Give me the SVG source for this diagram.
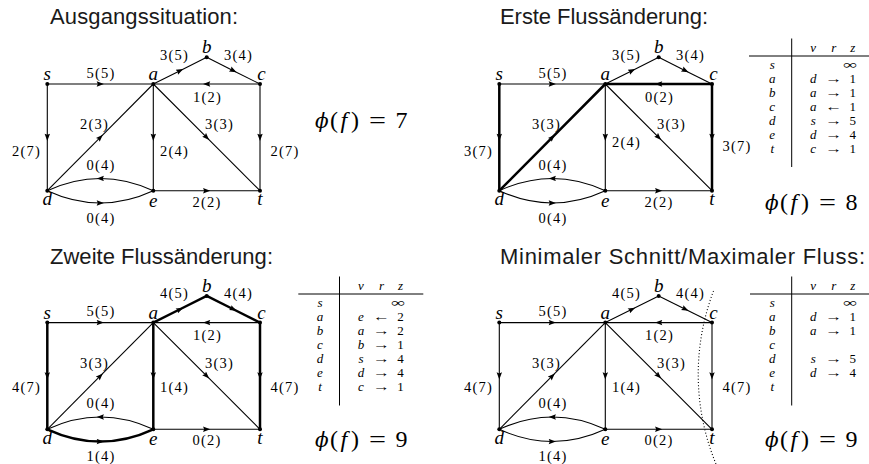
<svg xmlns="http://www.w3.org/2000/svg" width="869" height="464" viewBox="0 0 869 464">
<style>
.bg{fill:#ffffff}
.ttl{font-family:"Liberation Sans",Arial,sans-serif;font-size:22px;fill:#1a1a1a}
.e{fill:none;stroke:#000;stroke-width:1.1;marker-mid:url(#ah)}
.E{fill:none;stroke:#000;stroke-width:2.5;marker-mid:url(#ah)}
.lb{font-family:"Liberation Serif","Times New Roman",serif;font-size:14.5px;letter-spacing:1.2px;text-anchor:middle;fill:#000}
.nl{font-family:"Liberation Serif","Times New Roman",serif;font-size:19px;font-style:italic;text-anchor:middle;fill:#000}
.dot{fill:#000}
.phi{font-family:"Liberation Serif","Times New Roman",serif;font-size:24px;fill:#000}
.it{font-style:italic}
.ph{font-family:"DejaVu Serif","Liberation Serif",serif;font-style:italic;font-size:20px}
.tb{font-family:"Liberation Serif","Times New Roman",serif;font-size:13px;text-anchor:middle;fill:#000}
.tl{stroke:#000;stroke-width:1;fill:none}
.cut{fill:none;stroke:#000;stroke-width:1.1;stroke-dasharray:1 2.2}
</style>
<defs>
<marker id="ah" markerUnits="userSpaceOnUse" viewBox="-4 -3 8 6" markerWidth="8" markerHeight="6" refX="0" refY="0" orient="auto">
<path d="M-3.6,-2.7 L3.6,0 L-3.6,2.7 L-2.5,0 Z" fill="#000"/>
</marker>
</defs>
<rect class="bg" x="0" y="0" width="869" height="464"/>

<text class="ttl" x="50" y="24" textLength="188">Ausgangssituation:</text>
<text class="ttl" x="500" y="24" textLength="208">Erste Flussänderung:</text>
<text class="ttl" x="50" y="263.5" textLength="223">Zweite Flussänderung:</text>
<text class="ttl" x="500" y="263.5" textLength="365">Minimaler Schnitt/Maximaler Fluss:</text>

<!-- Quadrant 1 -->
<g id="q1" transform="translate(0,0)">
<g id="q1-connectors">
<path class="e" d="M47.3,84 L100.3,84 L153.3,84"/>
<path class="e" d="M153.3,84 L180,70.65 L206.7,57.3"/>
<path class="e" d="M206.7,57.3 L233.35,70.65 L260,84"/>
<path class="e" d="M260,84 L206.65,84 L153.3,84"/>
<path class="e" d="M47.3,84 L47.3,137.35 L47.3,190.7"/>
<path class="e" d="M47.3,190.7 L100.3,137.35 L153.3,84"/>
<path class="e" d="M153.3,84 L153.3,137.35 L153.3,190.7"/>
<path class="e" d="M153.3,84 L206.65,137.35 L260,190.7"/>
<path class="e" d="M260,84 L260,137.35 L260,190.7"/>
<path class="e" d="M153.3,190.7 Q126.8,178.45 100.3,178.45 Q73.8,178.45 47.3,190.7"/>
<path class="e" d="M47.3,190.7 Q73.8,202.95 100.3,202.95 Q126.8,202.95 153.3,190.7"/>
<path class="e" d="M153.3,190.7 L206.65,190.7 L260,190.7"/>
<text class="lb" x="101" y="77.5">5(5)</text>
<text class="lb" x="174.5" y="59.5">3(5)</text>
<text class="lb" x="238.5" y="59.5">3(4)</text>
<text class="lb" x="207.5" y="101.5">1(2)</text>
<text class="lb" x="26.5" y="155.5">2(7)</text>
<text class="lb" x="94.5" y="129">2(3)</text>
<text class="lb" x="174.5" y="155.5">2(4)</text>
<text class="lb" x="219.5" y="129">3(3)</text>
<text class="lb" x="285" y="155.5">2(7)</text>
<text class="lb" x="101" y="169.5">0(4)</text>
<text class="lb" x="101" y="222.5">0(4)</text>
<text class="lb" x="207" y="206.5">2(2)</text>
</g>
<g id="q1-s"><circle class="dot" cx="47.3" cy="84" r="2"/><text class="nl" x="47.3" y="80">s</text></g>
<g id="q1-a"><circle class="dot" cx="153.3" cy="84" r="2"/><text class="nl" x="153.3" y="80">a</text></g>
<g id="q1-b"><circle class="dot" cx="206.7" cy="57.3" r="2"/><text class="nl" x="206.7" y="53">b</text></g>
<g id="q1-c"><circle class="dot" cx="260" cy="84" r="2"/><text class="nl" x="261.5" y="80">c</text></g>
<g id="q1-d"><circle class="dot" cx="47.3" cy="190.7" r="2"/><text class="nl" x="47.3" y="205">d</text></g>
<g id="q1-e"><circle class="dot" cx="153.3" cy="190.7" r="2"/><text class="nl" x="153.3" y="206.5">e</text></g>
<g id="q1-t"><circle class="dot" cx="260" cy="190.7" r="2"/><text class="nl" x="260" y="205">t</text></g>
</g>
<text class="phi" y="128"><tspan class="ph" x="315">ϕ</tspan><tspan x="330">(</tspan><tspan class="it" x="340.5">f</tspan><tspan x="351">)</tspan><tspan x="369" textLength="17" lengthAdjust="spacingAndGlyphs">=</tspan><tspan x="395.5">7</tspan></text>

<!-- Quadrant 2 -->
<g id="q2" transform="translate(452,0)">
<g id="q2-connectors">
<path class="e" d="M47.3,84 L100.3,84 L153.3,84"/>
<path class="e" d="M153.3,84 L180,70.65 L206.7,57.3"/>
<path class="e" d="M206.7,57.3 L233.35,70.65 L260,84"/>
<path class="E" d="M260,84 L206.65,84 L153.3,84"/>
<path class="E" d="M47.3,84 L47.3,137.35 L47.3,190.7"/>
<path class="E" d="M47.3,190.7 L100.3,137.35 L153.3,84"/>
<path class="e" d="M153.3,84 L153.3,137.35 L153.3,190.7"/>
<path class="e" d="M153.3,84 L206.65,137.35 L260,190.7"/>
<path class="E" d="M260,84 L260,137.35 L260,190.7"/>
<path class="e" d="M153.3,190.7 Q126.8,178.45 100.3,178.45 Q73.8,178.45 47.3,190.7"/>
<path class="e" d="M47.3,190.7 Q73.8,202.95 100.3,202.95 Q126.8,202.95 153.3,190.7"/>
<path class="e" d="M153.3,190.7 L206.65,190.7 L260,190.7"/>
<text class="lb" x="101" y="77.5">5(5)</text>
<text class="lb" x="174.5" y="59.5">3(5)</text>
<text class="lb" x="238.5" y="59.5">3(4)</text>
<text class="lb" x="207.5" y="101.5">0(2)</text>
<text class="lb" x="26.5" y="155.5">3(7)</text>
<text class="lb" x="94.5" y="129">3(3)</text>
<text class="lb" x="174.5" y="147">2(4)</text>
<text class="lb" x="219.5" y="129">3(3)</text>
<text class="lb" x="285" y="151">3(7)</text>
<text class="lb" x="101" y="169.5">0(4)</text>
<text class="lb" x="101" y="222.5">0(4)</text>
<text class="lb" x="207" y="206.5">2(2)</text>
</g>
<g id="q2-s"><circle class="dot" cx="47.3" cy="84" r="2"/><text class="nl" x="47.3" y="80">s</text></g>
<g id="q2-a"><circle class="dot" cx="153.3" cy="84" r="2"/><text class="nl" x="153.3" y="80">a</text></g>
<g id="q2-b"><circle class="dot" cx="206.7" cy="57.3" r="2"/><text class="nl" x="206.7" y="53">b</text></g>
<g id="q2-c"><circle class="dot" cx="260" cy="84" r="2"/><text class="nl" x="261.5" y="80">c</text></g>
<g id="q2-d"><circle class="dot" cx="47.3" cy="190.7" r="2"/><text class="nl" x="47.3" y="205">d</text></g>
<g id="q2-e"><circle class="dot" cx="153.3" cy="190.7" r="2"/><text class="nl" x="153.3" y="206.5">e</text></g>
<g id="q2-t"><circle class="dot" cx="260" cy="190.7" r="2"/><text class="nl" x="260" y="205">t</text></g>
</g>
<g id="q2-table">
<line class="tl" x1="791.7" y1="38.5" x2="791.7" y2="167"/>
<line class="tl" x1="749" y1="56" x2="869" y2="56"/>
<text class="tb it" x="813.2" y="51.5">v</text><text class="tb it" x="833.7" y="51.5">r</text><text class="tb it" x="852.7" y="51.5">z</text>
<text class="tb it" x="772.2" y="69">s</text><text class="tb" x="850" y="69" textLength="14" lengthAdjust="spacingAndGlyphs">∞</text>
<text class="tb it" x="772.2" y="83">a</text><text class="tb it" x="813.2" y="83">d</text><text class="tb" x="833.2" y="83" textLength="17" lengthAdjust="spacingAndGlyphs">→</text><text class="tb" x="852.7" y="83">1</text>
<text class="tb it" x="772.2" y="97">b</text><text class="tb it" x="813.2" y="97">a</text><text class="tb" x="833.2" y="97" textLength="17" lengthAdjust="spacingAndGlyphs">→</text><text class="tb" x="852.7" y="97">1</text>
<text class="tb it" x="772.2" y="111">c</text><text class="tb it" x="813.2" y="111">a</text><text class="tb" x="833.2" y="111" textLength="17" lengthAdjust="spacingAndGlyphs">←</text><text class="tb" x="852.7" y="111">1</text>
<text class="tb it" x="772.2" y="125">d</text><text class="tb it" x="813.2" y="125">s</text><text class="tb" x="833.2" y="125" textLength="17" lengthAdjust="spacingAndGlyphs">→</text><text class="tb" x="852.7" y="125">5</text>
<text class="tb it" x="772.2" y="139">e</text><text class="tb it" x="813.2" y="139">d</text><text class="tb" x="833.2" y="139" textLength="17" lengthAdjust="spacingAndGlyphs">→</text><text class="tb" x="852.7" y="139">4</text>
<text class="tb it" x="772.2" y="153">t</text><text class="tb it" x="813.2" y="153">c</text><text class="tb" x="833.2" y="153" textLength="17" lengthAdjust="spacingAndGlyphs">→</text><text class="tb" x="852.7" y="153">1</text>
</g>
<text class="phi" y="210"><tspan class="ph" x="765">ϕ</tspan><tspan x="780">(</tspan><tspan class="it" x="790.5">f</tspan><tspan x="801">)</tspan><tspan x="819" textLength="17" lengthAdjust="spacingAndGlyphs">=</tspan><tspan x="845.5">8</tspan></text>

<!-- Quadrant 3 -->
<g id="q3" transform="translate(0,238.6)">
<g id="q3-connectors">
<path class="e" d="M47.3,84 L100.3,84 L153.3,84"/>
<path class="E" d="M153.3,84 L180,70.65 L206.7,57.3"/>
<path class="E" d="M206.7,57.3 L233.35,70.65 L260,84"/>
<path class="e" d="M260,84 L206.65,84 L153.3,84"/>
<path class="E" d="M47.3,84 L47.3,137.35 L47.3,190.7"/>
<path class="e" d="M47.3,190.7 L100.3,137.35 L153.3,84"/>
<path class="E" d="M153.3,84 L153.3,137.35 L153.3,190.7"/>
<path class="e" d="M153.3,84 L206.65,137.35 L260,190.7"/>
<path class="E" d="M260,84 L260,137.35 L260,190.7"/>
<path class="e" d="M153.3,190.7 Q126.8,178.45 100.3,178.45 Q73.8,178.45 47.3,190.7"/>
<path class="E" d="M47.3,190.7 Q73.8,202.95 100.3,202.95 Q126.8,202.95 153.3,190.7"/>
<path class="e" d="M153.3,190.7 L206.65,190.7 L260,190.7"/>
<text class="lb" x="101" y="77.5">5(5)</text>
<text class="lb" x="174.5" y="59.5">4(5)</text>
<text class="lb" x="238.5" y="59.5">4(4)</text>
<text class="lb" x="207.5" y="101.5">1(2)</text>
<text class="lb" x="26.5" y="153">4(7)</text>
<text class="lb" x="94.5" y="129">3(3)</text>
<text class="lb" x="174.5" y="153">1(4)</text>
<text class="lb" x="219.5" y="129">3(3)</text>
<text class="lb" x="285" y="153">4(7)</text>
<text class="lb" x="101" y="169.5">0(4)</text>
<text class="lb" x="101" y="222.5">1(4)</text>
<text class="lb" x="207" y="206.5">0(2)</text>
</g>
<g id="q3-s"><circle class="dot" cx="47.3" cy="84" r="2"/><text class="nl" x="47.3" y="80">s</text></g>
<g id="q3-a"><circle class="dot" cx="153.3" cy="84" r="2"/><text class="nl" x="153.3" y="80">a</text></g>
<g id="q3-b"><circle class="dot" cx="206.7" cy="57.3" r="2"/><text class="nl" x="206.7" y="53">b</text></g>
<g id="q3-c"><circle class="dot" cx="260" cy="84" r="2"/><text class="nl" x="261.5" y="80">c</text></g>
<g id="q3-d"><circle class="dot" cx="47.3" cy="190.7" r="2"/><text class="nl" x="47.3" y="205">d</text></g>
<g id="q3-e"><circle class="dot" cx="153.3" cy="190.7" r="2"/><text class="nl" x="153.3" y="206.5">e</text></g>
<g id="q3-t"><circle class="dot" cx="260" cy="190.7" r="2"/><text class="nl" x="260" y="205">t</text></g>
</g>
<g id="q3-table">
<line class="tl" x1="339.5" y1="276.5" x2="339.5" y2="405.5"/>
<line class="tl" x1="298.3" y1="294" x2="423.3" y2="294"/>
<text class="tb it" x="361" y="289.5">v</text><text class="tb it" x="381.5" y="289.5">r</text><text class="tb it" x="400.5" y="289.5">z</text>
<text class="tb it" x="320" y="307">s</text><text class="tb" x="398" y="307" textLength="14" lengthAdjust="spacingAndGlyphs">∞</text>
<text class="tb it" x="320" y="321">a</text><text class="tb it" x="361" y="321">e</text><text class="tb" x="381" y="321" textLength="17" lengthAdjust="spacingAndGlyphs">←</text><text class="tb" x="400.5" y="321">2</text>
<text class="tb it" x="320" y="335">b</text><text class="tb it" x="361" y="335">a</text><text class="tb" x="381" y="335" textLength="17" lengthAdjust="spacingAndGlyphs">→</text><text class="tb" x="400.5" y="335">2</text>
<text class="tb it" x="320" y="349">c</text><text class="tb it" x="361" y="349">b</text><text class="tb" x="381" y="349" textLength="17" lengthAdjust="spacingAndGlyphs">→</text><text class="tb" x="400.5" y="349">1</text>
<text class="tb it" x="320" y="363">d</text><text class="tb it" x="361" y="363">s</text><text class="tb" x="381" y="363" textLength="17" lengthAdjust="spacingAndGlyphs">→</text><text class="tb" x="400.5" y="363">4</text>
<text class="tb it" x="320" y="377">e</text><text class="tb it" x="361" y="377">d</text><text class="tb" x="381" y="377" textLength="17" lengthAdjust="spacingAndGlyphs">→</text><text class="tb" x="400.5" y="377">4</text>
<text class="tb it" x="320" y="391">t</text><text class="tb it" x="361" y="391">c</text><text class="tb" x="381" y="391" textLength="17" lengthAdjust="spacingAndGlyphs">→</text><text class="tb" x="400.5" y="391">1</text>
</g>
<text class="phi" y="447"><tspan class="ph" x="315">ϕ</tspan><tspan x="330">(</tspan><tspan class="it" x="340.5">f</tspan><tspan x="351">)</tspan><tspan x="369" textLength="17" lengthAdjust="spacingAndGlyphs">=</tspan><tspan x="395.5">9</tspan></text>

<!-- Quadrant 4 -->
<g id="q4" transform="translate(452,238.6)">
<g id="q4-connectors">
<path class="e" d="M47.3,84 L100.3,84 L153.3,84"/>
<path class="e" d="M153.3,84 L180,70.65 L206.7,57.3"/>
<path class="e" d="M206.7,57.3 L233.35,70.65 L260,84"/>
<path class="e" d="M260,84 L206.65,84 L153.3,84"/>
<path class="e" d="M47.3,84 L47.3,137.35 L47.3,190.7"/>
<path class="e" d="M47.3,190.7 L100.3,137.35 L153.3,84"/>
<path class="e" d="M153.3,84 L153.3,137.35 L153.3,190.7"/>
<path class="e" d="M153.3,84 L206.65,137.35 L260,190.7"/>
<path class="e" d="M260,84 L260,137.35 L260,190.7"/>
<path class="e" d="M153.3,190.7 Q126.8,178.45 100.3,178.45 Q73.8,178.45 47.3,190.7"/>
<path class="e" d="M47.3,190.7 Q73.8,202.95 100.3,202.95 Q126.8,202.95 153.3,190.7"/>
<path class="e" d="M153.3,190.7 L206.65,190.7 L260,190.7"/>
<text class="lb" x="101" y="77.5">5(5)</text>
<text class="lb" x="174.5" y="59.5">4(5)</text>
<text class="lb" x="238.5" y="59.5">4(4)</text>
<text class="lb" x="207.5" y="101.5">1(2)</text>
<text class="lb" x="26.5" y="153">4(7)</text>
<text class="lb" x="94.5" y="129">3(3)</text>
<text class="lb" x="174.5" y="153">1(4)</text>
<text class="lb" x="219.5" y="129">3(3)</text>
<text class="lb" x="285" y="153">4(7)</text>
<text class="lb" x="101" y="169.5">0(4)</text>
<text class="lb" x="101" y="222.5">1(4)</text>
<text class="lb" x="207" y="206.5">0(2)</text>
</g>
<g id="q4-s"><circle class="dot" cx="47.3" cy="84" r="2"/><text class="nl" x="47.3" y="80">s</text></g>
<g id="q4-a"><circle class="dot" cx="153.3" cy="84" r="2"/><text class="nl" x="153.3" y="80">a</text></g>
<g id="q4-b"><circle class="dot" cx="206.7" cy="57.3" r="2"/><text class="nl" x="206.7" y="53">b</text></g>
<g id="q4-c"><circle class="dot" cx="260" cy="84" r="2"/><text class="nl" x="261.5" y="80">c</text></g>
<g id="q4-d"><circle class="dot" cx="47.3" cy="190.7" r="2"/><text class="nl" x="47.3" y="205">d</text></g>
<g id="q4-e"><circle class="dot" cx="153.3" cy="190.7" r="2"/><text class="nl" x="153.3" y="206.5">e</text></g>
<g id="q4-t"><circle class="dot" cx="260" cy="190.7" r="2"/><text class="nl" x="260" y="205">t</text></g>
</g>
<path id="q4-cut" class="cut" d="M713.5,291 A235,235 0 0 0 716,464"/>
<g id="q4-table">
<line class="tl" x1="791.7" y1="276.5" x2="791.7" y2="405.5"/>
<line class="tl" x1="750" y1="294" x2="869" y2="294"/>
<text class="tb it" x="813.2" y="289.5">v</text><text class="tb it" x="833.7" y="289.5">r</text><text class="tb it" x="852.7" y="289.5">z</text>
<text class="tb it" x="772.2" y="307">s</text><text class="tb" x="850" y="307" textLength="14" lengthAdjust="spacingAndGlyphs">∞</text>
<text class="tb it" x="772.2" y="321">a</text><text class="tb it" x="813.2" y="321">d</text><text class="tb" x="833.2" y="321" textLength="17" lengthAdjust="spacingAndGlyphs">→</text><text class="tb" x="852.7" y="321">1</text>
<text class="tb it" x="772.2" y="335">b</text><text class="tb it" x="813.2" y="335">a</text><text class="tb" x="833.2" y="335" textLength="17" lengthAdjust="spacingAndGlyphs">→</text><text class="tb" x="852.7" y="335">1</text>
<text class="tb it" x="772.2" y="349">c</text>
<text class="tb it" x="772.2" y="363">d</text><text class="tb it" x="813.2" y="363">s</text><text class="tb" x="833.2" y="363" textLength="17" lengthAdjust="spacingAndGlyphs">→</text><text class="tb" x="852.7" y="363">5</text>
<text class="tb it" x="772.2" y="377">e</text><text class="tb it" x="813.2" y="377">d</text><text class="tb" x="833.2" y="377" textLength="17" lengthAdjust="spacingAndGlyphs">→</text><text class="tb" x="852.7" y="377">4</text>
<text class="tb it" x="772.2" y="391">t</text>
</g>
<text class="phi" y="447"><tspan class="ph" x="765">ϕ</tspan><tspan x="780">(</tspan><tspan class="it" x="790.5">f</tspan><tspan x="801">)</tspan><tspan x="819" textLength="17" lengthAdjust="spacingAndGlyphs">=</tspan><tspan x="845.5">9</tspan></text>
</svg>
